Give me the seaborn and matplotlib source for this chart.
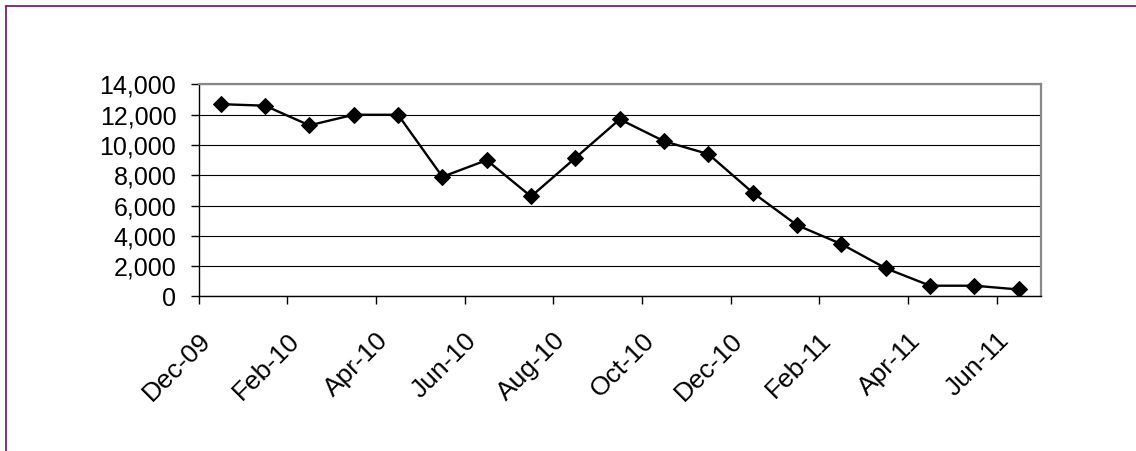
import numpy as np
import pandas as pd
import matplotlib
matplotlib.use("Agg")
import matplotlib.pyplot as plt
import matplotlib.ticker as mticker
from matplotlib.lines import Line2D
import seaborn as sns

# Monthly series, Dec-09 through Jun-11
months = ["Dec-09", "Jan-10", "Feb-10", "Mar-10", "Apr-10", "May-10", "Jun-10",
          "Jul-10", "Aug-10", "Sep-10", "Oct-10", "Nov-10", "Dec-10", "Jan-11",
          "Feb-11", "Mar-11", "Apr-11", "May-11", "Jun-11"]
values = [12700, 12600, 11300, 12000, 12000, 7900, 9000, 6600, 9150, 11700,
          10250, 9400, 6850, 4700, 3450, 1850, 700, 700, 450]
tick_labels = ["Dec-09", "Feb-10", "Apr-10", "Jun-10", "Aug-10", "Oct-10",
               "Dec-10", "Feb-11", "Apr-11", "Jun-11"]
y_ticks = [0, 2000, 4000, 6000, 8000, 10000, 12000, 14000]

sns.set_style("white")
plt.rcParams["font.family"] = ["Liberation Sans", "DejaVu Sans"]

# each month occupies one slot; points sit in the middle of their slot
df = pd.DataFrame({"slot": np.arange(len(months)) + 0.5, "value": values})

fig = plt.figure(figsize=(11.36, 4.51), dpi=100)
ax = fig.add_axes([198.5 / 1136, 154.7 / 451, (1041 - 198.5) / 1136, (366.5 - 154.7) / 451])

sns.lineplot(data=df, x="slot", y="value", ax=ax, color="black", linewidth=1.7,
             marker="D", markersize=8, markeredgecolor="black", markerfacecolor="black")

ax.set_xlim(0, len(months))
ax.set_ylim(0, 14000)
ax.set_yticks(y_ticks)
ax.yaxis.set_major_formatter(mticker.StrMethodFormatter("{x:,.0f}"))
tick_pos = [months.index(m) for m in tick_labels]
ax.set_xticks(tick_pos)
ax.set_xticklabels(tick_labels, rotation=45, ha="right", va="top", rotation_mode="anchor")
ax.set_xlabel("")
ax.set_ylabel("")

ax.grid(axis="y", color="black", linewidth=0.8)
ax.grid(axis="x", visible=False)
ax.set_axisbelow(True)

for side in ["top", "right"]:
    ax.spines[side].set_color("#888888")
    ax.spines[side].set_linewidth(1.6)
for side in ["left", "bottom"]:
    ax.spines[side].set_color("black")
    ax.spines[side].set_linewidth(1.0)

ax.tick_params(axis="both", direction="out", length=6, width=1.0, color="black",
               labelsize=18, labelcolor="black")
ax.tick_params(axis="y", left=True, pad=10)
ax.tick_params(axis="x", bottom=True, pad=17, labelsize=19)

# chart frame
fig.add_artist(Line2D([6 / 1136, 1], [1 - 6 / 451, 1 - 6 / 451], color="#6a0f6a",
                      linewidth=1.2, transform=fig.transFigure))
fig.add_artist(Line2D([6 / 1136, 6 / 1136], [0, 1 - 6 / 451], color="#6a0f6a",
                      linewidth=1.2, transform=fig.transFigure))

fig.savefig("out.png", dpi=100, facecolor="white")
